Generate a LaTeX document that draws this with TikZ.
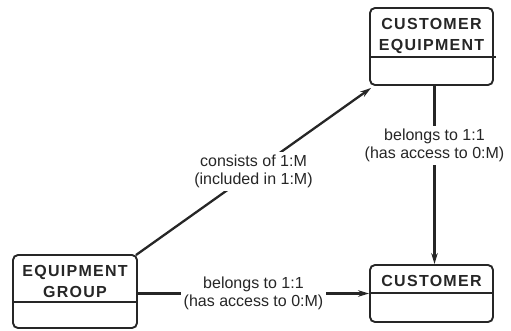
\documentclass[tikz,border=0pt]{standalone}
\usepackage{fontspec}
\setmainfont{Liberation Sans}
\newfontfamily\titlefont{Liberation Sans Bold}[LetterSpace=8]
\usetikzlibrary{arrows.meta}
\definecolor{ink}{HTML}{262626}
\begin{document}
\begin{tikzpicture}[x=1pt,y=-1pt,
  entity/.style={draw=ink, line width=1.9pt, rounded corners=5pt, inner sep=0pt},
  title/.style={font=\titlefont\fontsize{16}{21}\selectfont, align=center, text=ink, inner sep=0pt},
  divider/.style={draw=ink, line width=1.9pt},
  rel/.style={draw=ink, line width=2.3pt, -{Stealth[length=11pt,width=6.5pt]}},
  lbl/.style={font=\fontsize{16}{18.5}\selectfont, align=center, fill=white, text=ink, inner sep=3pt}
]
\useasboundingbox (0,0) rectangle (511,330);

% entity boxes: title compartment over an empty attribute compartment
\node[entity, minimum width=123pt, minimum height=77pt] (ce) at (431.5,46.5) {};
\node[title] (cet) at (431.5,36) {CUSTOMER\\EQUIPMENT};
\draw[divider] (370,57) -- (496,57);

\node[entity, minimum width=124pt, minimum height=73pt] (eg) at (75,291.5) {};
\node[title] (egt) at (75,281.5) {EQUIPMENT\\GROUP};
\draw[divider] (13,302) -- (137,302);

\node[entity, minimum width=123pt, minimum height=57pt] (c) at (431.5,293.5) {};
\node[title] (ct) at (431.5,280.5) {CUSTOMER};
\draw[divider] (370,293) -- (493,293);

% relationships
\draw[rel] ([shift={(-2,1)}]eg.north east)
  -- node[lbl] {consists of 1:M\\(included in 1:M)}
  ([shift={(2,2)}]ce.south west);
\draw[rel] ([xshift=3pt]ce.south)
  -- node[lbl, pos=0.333] {belongs to 1:1\\(has access to 0:M)}
  ([xshift=3pt]c.north);
\draw[rel] (eg.east |- c.west)
  -- node[lbl] {belongs to 1:1\\(has access to 0:M)}
  (c.west);
\end{tikzpicture}
\end{document}
